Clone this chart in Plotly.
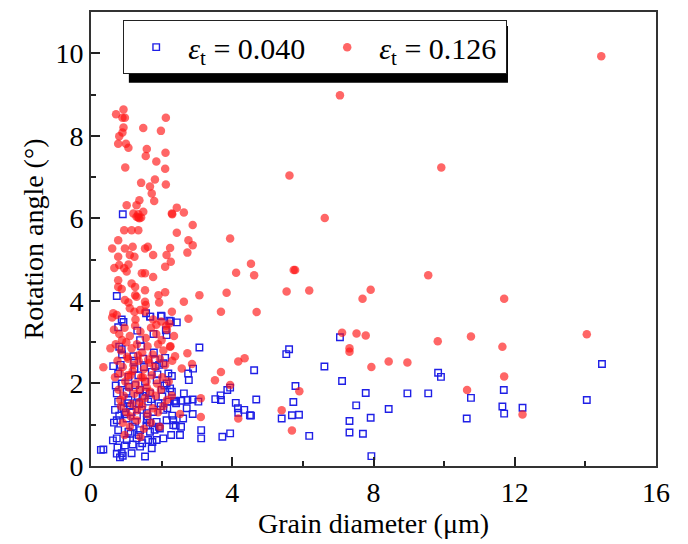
import plotly.graph_objects as go

# grain diameter (um) and rotation angle (deg), eps_t = 0.040
blue_x = [0.28, 0.35, 0.62, 0.73, 0.75, 0.82, 0.87, 0.90, 1.15, 1.53, 1.39, 1.72,
          0.73, 1.01, 1.29, 1.62, 1.86, 2.05, 0.77, 1.06, 1.39, 1.67, 1.95,
          0.73, 1.01, 1.25, 1.58, 1.86, 2.14, 0.68, 0.92, 1.15, 1.44, 1.76, 2.05,
          0.77, 1.06, 1.29, 1.62, 1.91, 2.19, 0.73, 1.01, 1.39, 1.67, 2.00, 2.29,
          0.87, 1.25, 1.53, 1.86, 2.14, 0.77, 1.06, 1.34, 1.72, 2.19,
          1.20, 1.81, 2.05, 0.63, 0.80, 0.87, 1.39, 1.77, 2.12, 2.14, 1.31, 0.77,
          0.87, 0.92, 1.67, 1.98, 2.22, 2.43, 2.26, 1.56, 1.68, 2.00, 0.73, 0.90,
          0.95, 1.10, 1.18, 1.32, 1.45, 1.50, 1.60, 1.78, 1.92, 2.08, 2.30, 2.40,
          0.70, 0.84, 0.98, 1.12, 1.23, 1.36, 1.48, 1.57, 1.70, 1.83, 1.97, 2.10,
          0.80, 0.96, 1.08, 1.22, 1.35, 1.46, 1.58, 1.74, 1.88, 2.02, 2.24, 2.35,
          0.88, 1.03, 1.18, 1.30, 1.42, 1.55, 1.66, 1.80, 1.93, 2.16, 0.65, 2.55,
          3.07, 2.29, 2.75, 2.89, 2.77, 2.63, 2.41, 2.56, 2.73, 2.88, 3.04, 3.52,
          3.68, 3.67, 3.86, 3.94, 4.10, 4.16, 4.17, 4.34, 4.50, 2.71, 2.88, 2.61,
          2.33, 2.33, 2.27, 2.52, 3.12, 3.12, 3.72, 3.94, 2.41,
          7.05, 5.61, 5.53, 4.62, 6.61, 7.11, 9.83, 9.91, 14.47, 5.79, 7.78, 8.96,
          9.55, 10.76, 11.69, 4.68, 5.73, 7.51, 8.43, 11.65, 12.22, 14.04, 11.70,
          4.53, 5.40, 5.69, 5.89, 7.32, 7.92, 10.64, 6.18, 7.32, 7.70, 7.94]
blue_y = [0.39, 0.40, 0.62, 0.30, 0.45, 0.21, 0.31, 0.25, 0.31, 0.23, 0.47, 0.43,
          0.67, 0.63, 0.67, 0.63, 0.63, 0.67, 0.87, 0.83, 0.87, 0.83, 0.91,
          1.11, 1.15, 1.07, 1.11, 1.07, 1.11, 1.36, 1.40, 1.31, 1.36, 1.31, 1.36,
          1.56, 1.60, 1.52, 1.56, 1.52, 1.56, 1.76, 1.80, 1.84, 1.76, 1.84, 1.80,
          2.00, 1.96, 2.04, 2.08, 2.00, 2.24, 2.16, 2.20, 2.28, 2.24,
          2.66, 2.57, 2.49, 2.42, 2.89, 2.83, 3.05, 3.20, 3.29, 3.17, 3.28, 3.36,
          3.55, 3.49, 3.62, 3.64, 3.52, 3.48, 3.51, 3.70, 3.62, 3.63, 4.12, 6.10,
          1.25, 1.45, 0.95, 1.70, 0.55, 2.40, 1.20, 2.75, 0.95, 1.95, 1.22, 0.98,
          1.95, 2.45, 1.30, 0.78, 2.35, 1.50, 2.60, 0.98, 1.62, 2.42, 1.45, 2.62,
          1.22, 0.50, 1.92, 2.55, 0.75, 1.70, 1.28, 0.58, 2.22, 1.68, 1.88, 1.58,
          2.70, 1.52, 0.52, 1.22, 2.90, 1.80, 1.05, 0.88, 2.45, 1.40, 1.05, 0.95,
          2.87, 2.18, 2.24, 2.36, 2.08, 1.76, 1.56, 1.58, 1.60, 1.61, 1.56, 1.62,
          1.60, 1.71, 1.84, 1.90, 1.53, 1.40, 1.29, 1.36, 1.23, 1.40, 1.26, 1.15,
          1.11, 0.99, 0.75, 0.75, 0.87, 0.67, 0.71, 0.79, 1.52,
          3.12, 2.83, 2.71, 2.32, 2.41, 2.06, 2.26, 2.16, 2.47, 1.94, 1.77, 1.76,
          1.76, 1.65, 1.84, 1.61, 1.55, 1.47, 1.38, 1.44, 1.41, 1.60, 1.27,
          1.22, 1.15, 1.23, 1.24, 1.09, 1.17, 1.15, 0.73, 0.81, 0.78, 0.24]

# eps_t = 0.126
red_x = [0.92, 0.71, 0.89, 0.96, 2.12, 0.92, 1.48, 1.98, 0.89, 0.80, 0.77, 0.99,
         1.06, 1.58, 2.11, 1.55, 1.85, 0.97, 2.10, 1.81, 1.42, 2.12, 1.67, 1.72,
         1.79, 1.37, 1.01, 1.29, 1.20, 1.34, 1.48, 1.34, 1.42, 2.30,
         1.29, 1.37, 1.15, 1.34, 0.94, 0.77, 0.60, 0.96, 1.18, 1.53, 1.61, 1.76,
         0.77, 1.10, 1.23, 2.14, 0.80, 1.06, 0.66, 2.10, 0.94, 1.01, 1.44, 1.53,
         1.76, 0.77, 1.15, 1.25, 0.77, 0.87, 1.53, 1.91, 2.10, 1.25, 1.29,
         0.96, 1.06, 1.53, 1.55, 1.93, 0.63, 0.73, 1.10, 1.23, 1.39, 1.53,
         1.76, 1.85, 1.99, 2.13, 2.22,
         0.65, 0.80, 0.95, 1.10, 1.25, 1.40, 1.55, 1.70, 1.85, 2.00, 2.15, 2.35,
         0.70, 0.85, 1.00, 1.15, 1.30, 1.45, 1.60, 1.75, 1.90, 2.05, 2.25,
         0.75, 0.90, 1.05, 1.20, 1.35, 1.50, 1.65, 1.80, 1.95, 2.10, 2.30,
         0.68, 0.82, 0.97, 1.12, 1.27, 1.42, 1.57, 1.72, 1.87, 2.02, 2.20,
         0.78, 0.93, 1.08, 1.23, 1.38, 1.53, 1.68, 1.83, 1.98, 2.15,
         0.85, 1.00, 1.15, 1.30, 1.45, 1.60, 1.75, 1.90, 2.05,
         0.90, 1.10, 1.30, 1.50, 1.70, 1.95, 0.95, 1.40, 0.35, 0.55, 0.60,
         0.88, 1.02, 1.18, 1.33, 1.47, 1.62, 0.83, 1.13, 1.38, 1.58, 1.26, 1.04,
         2.88, 2.43, 2.76, 2.88, 2.24, 2.73, 2.26, 3.94, 4.11, 3.07, 3.84, 2.63,
         3.68, 2.29, 2.76, 2.43, 2.63, 2.29,
         2.73, 2.38, 2.57, 2.86, 4.17, 4.35, 3.68, 3.51, 3.94, 3.11, 3.11, 2.52,
         4.17, 2.29, 2.24,
         7.05, 5.62, 9.92, 6.62, 4.53, 4.62, 5.74, 5.78, 9.55, 5.54, 6.18, 7.92,
         7.69, 11.70, 4.69, 7.11, 7.52, 7.78, 14.04, 10.76, 9.82, 11.65, 7.32,
         7.32, 7.94, 8.43, 8.96, 11.70, 5.90, 10.65, 5.40, 12.22, 5.69, 14.45]
red_y = [8.64, 8.52, 8.44, 8.44, 8.44, 8.20, 8.19, 8.12, 8.08, 7.99, 7.81, 7.81,
         7.71, 7.68, 7.59, 7.51, 7.38, 7.23, 7.20, 6.94, 6.86, 6.82, 6.77, 6.60,
         6.42, 6.44, 6.32, 6.32, 6.12, 6.10, 6.16, 6.02, 6.02, 6.10,
         6.04, 6.00, 5.71, 5.71, 5.71, 5.47, 5.27, 5.27, 5.31, 5.27, 5.31, 5.11,
         5.07, 5.11, 5.07, 5.11, 4.87, 4.88, 4.80, 4.83, 4.79, 4.71, 4.67, 4.67,
         4.58, 4.50, 4.42, 4.34, 4.34, 4.29, 4.26, 4.14, 4.21, 4.14, 4.10,
         4.02, 3.96, 3.98, 3.90, 3.96, 3.70, 3.66, 3.82, 3.74, 3.78, 3.74,
         3.55, 3.42, 3.50, 3.40, 3.45,
         3.30, 3.20, 3.35, 3.15, 3.40, 3.25, 3.10, 3.35, 3.20, 3.05, 3.30, 3.15,
         2.95, 2.80, 3.00, 2.85, 2.95, 2.75, 2.90, 2.70, 2.95, 2.80, 2.90,
         2.55, 2.40, 2.60, 2.45, 2.55, 2.35, 2.50, 2.40, 2.60, 2.45, 2.55,
         2.15, 2.25, 2.05, 2.20, 2.00, 2.15, 2.05, 2.20, 2.00, 2.15, 2.05,
         1.85, 1.70, 1.90, 1.75, 1.85, 1.65, 1.80, 1.70, 1.85, 1.60,
         1.45, 1.30, 1.50, 1.35, 1.45, 1.25, 1.40, 1.30, 1.45,
         1.05, 0.95, 1.10, 0.90, 1.05, 0.95, 0.75, 0.70, 2.39, 2.85, 3.60,
         3.05, 2.65, 2.30, 2.68, 2.15, 2.58, 1.60, 1.20, 1.55, 1.90, 3.55, 2.20,
         5.84, 5.65, 5.47, 5.35, 5.28, 5.17, 4.95, 5.51, 4.68, 4.14, 4.20, 3.98,
         3.74, 3.74, 3.57, 6.26, 6.14, 6.12,
         2.73, 2.66, 2.36, 2.47, 2.53, 2.61, 2.28, 2.08, 1.96, 1.64, 1.19, 1.26,
         1.15, 1.70, 2.89,
         8.98, 7.04, 7.23, 6.01, 4.90, 4.62, 4.75, 4.75, 4.62, 4.23, 4.25, 4.27,
         4.05, 4.05, 3.73, 3.23, 3.21, 3.16, 3.19, 3.14, 3.02, 2.89, 2.85,
         2.77, 2.40, 2.53, 2.51, 2.17, 1.81, 1.84, 1.35, 1.25, 0.86, 9.93]

serif = "Liberation Serif"

fig = go.Figure()
fig.add_trace(go.Scatter(
    x=blue_x, y=blue_y, mode="markers",
    name="<i>ε</i><sub>t</sub> = 0.040",
    marker=dict(symbol="square-open", size=6.5, color="#1f1fe6", line=dict(width=1.4)),
))
fig.add_trace(go.Scatter(
    x=red_x, y=red_y, mode="markers",
    name="<i>ε</i><sub>t</sub> = 0.126",
    marker=dict(symbol="circle", size=8.5, color="rgba(255,20,20,0.65)", line=dict(width=0)),
))

# legend drop shadow (paper coords)
fig.add_shape(type="rect", xref="paper", yref="paper",
              x0=0.067, x1=0.738, y0=0.844, y1=0.969,
              fillcolor="black", line=dict(width=0), layer="above")

axis_common = dict(
    showline=True, linecolor="#333", linewidth=2, mirror=True,
    ticks="inside", ticklen=9, tickwidth=2, tickcolor="#222",
    showgrid=False, zeroline=False, automargin=False,
    tickfont=dict(family=serif, size=28, color="black"),
)

fig.update_xaxes(range=[0, 16], dtick=4, tick0=0,
                 minor=dict(dtick=2, ticks="inside", ticklen=5, tickwidth=1.5, tickcolor="#222"),
                 title=dict(text="Grain diameter (μm)", font=dict(family=serif, size=28, color="black"),
                            standoff=0),
                 **axis_common)
fig.update_yaxes(range=[0, 11], dtick=2, tick0=0,
                 minor=dict(dtick=1, ticks="inside", ticklen=5, tickwidth=1.5, tickcolor="#222"),
                 title=dict(text="Rotation angle (°)", font=dict(family=serif, size=28, color="black"),
                            standoff=4),
                 **axis_common)

# page body adds an 8px offset, so margins are shifted to compensate
fig.update_layout(
    width=688, height=544,
    margin=dict(l=83, r=40, t=4, b=86),
    plot_bgcolor="white", paper_bgcolor="white",
    legend=dict(orientation="h", x=0.057, y=0.982, xanchor="left", yanchor="top",
                bgcolor="white", bordercolor="#222", borderwidth=1,
                font=dict(family=serif, size=30, color="black"),
                itemsizing="trace", itemwidth=54, entrywidth=122),
)

fig.write_html("out.html")
